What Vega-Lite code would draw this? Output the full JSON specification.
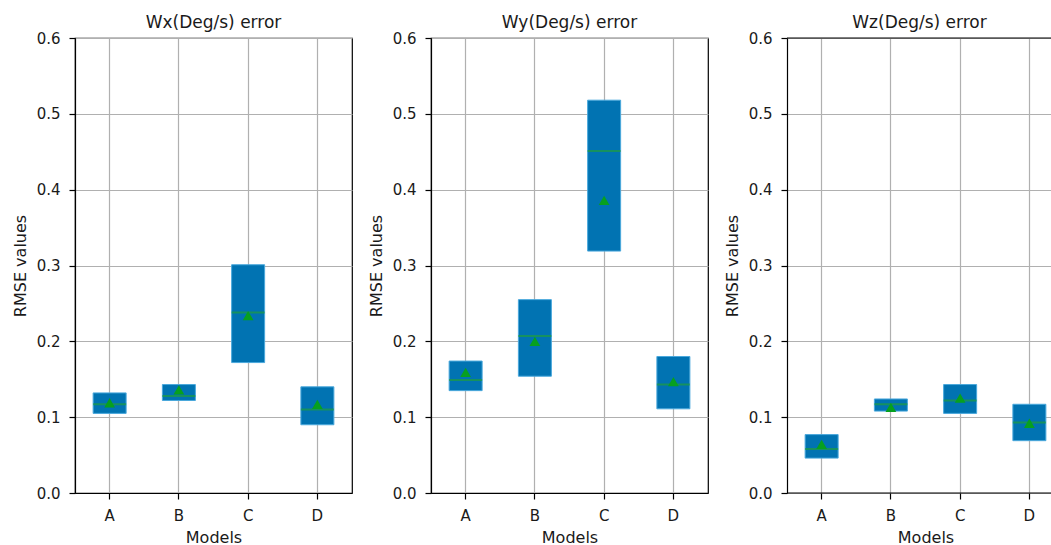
{
  "$schema": "https://vega.github.io/schema/vega-lite/v6.json",
  "background": "white",
  "padding": {"left": 11, "top": 13, "right": 0, "bottom": 0},
  "datasets": {
    "rmse": [
      {"panel": "Wx", "model": "A", "q1": 0.105, "q3": 0.132, "median": 0.117, "mean": 0.119},
      {"panel": "Wx", "model": "B", "q1": 0.122, "q3": 0.143, "median": 0.128, "mean": 0.136},
      {"panel": "Wx", "model": "C", "q1": 0.172, "q3": 0.301, "median": 0.238, "mean": 0.234},
      {"panel": "Wx", "model": "D", "q1": 0.090, "q3": 0.140, "median": 0.110, "mean": 0.117},
      {"panel": "Wy", "model": "A", "q1": 0.135, "q3": 0.174, "median": 0.149, "mean": 0.159},
      {"panel": "Wy", "model": "B", "q1": 0.154, "q3": 0.255, "median": 0.207, "mean": 0.200},
      {"panel": "Wy", "model": "C", "q1": 0.319, "q3": 0.518, "median": 0.451, "mean": 0.386},
      {"panel": "Wy", "model": "D", "q1": 0.111, "q3": 0.180, "median": 0.143, "mean": 0.147},
      {"panel": "Wz", "model": "A", "q1": 0.046, "q3": 0.077, "median": 0.058, "mean": 0.064},
      {"panel": "Wz", "model": "B", "q1": 0.108, "q3": 0.124, "median": 0.117, "mean": 0.113},
      {"panel": "Wz", "model": "C", "q1": 0.105, "q3": 0.143, "median": 0.122, "mean": 0.125},
      {"panel": "Wz", "model": "D", "q1": 0.069, "q3": 0.117, "median": 0.093, "mean": 0.092}
    ]
  },
  "spacing": 79,
  "bounds": "flush",
  "hconcat": [
    {
      "width": 277,
      "height": 455,
      "title": "Wx(Deg/s) error",
      "data": {"name": "rmse"},
      "transform": [{"filter": "datum.panel === 'Wx'"}],
      "encoding": {
        "x": {"field": "model", "type": "nominal", "title": "Models",
              "scale": {"paddingInner": 0, "paddingOuter": 0},
              "axis": {"labelAngle": 0, "grid": true, "bandPosition": 0.5}},
        "y": {"type": "quantitative"}
      },
      "layer": [
        {"mark": {"type": "bar", "width": 33, "color": "#0173b2", "stroke": "#4aa8dc", "strokeWidth": 1},
         "encoding": {"y": {"field": "q1", "type": "quantitative", "title": "RMSE values",
                            "scale": {"domain": [0, 0.6], "nice": false},
                            "axis": {"values": [0, 0.1, 0.2, 0.3, 0.4, 0.5, 0.6], "format": ".1f", "grid": true}},
                      "y2": {"field": "q3"}}},
        {"mark": {"type": "tick", "size": 33, "thickness": 2, "color": "#1f9e3c"},
         "encoding": {"y": {"field": "median", "type": "quantitative"}}},
        {"mark": {"type": "point", "shape": "triangle-up", "filled": true, "size": 115, "color": "#07a01f", "opacity": 1},
         "encoding": {"y": {"field": "mean", "type": "quantitative"}}}
      ]
    },
    {
      "width": 277,
      "height": 455,
      "title": "Wy(Deg/s) error",
      "data": {"name": "rmse"},
      "transform": [{"filter": "datum.panel === 'Wy'"}],
      "encoding": {
        "x": {"field": "model", "type": "nominal", "title": "Models",
              "scale": {"paddingInner": 0, "paddingOuter": 0},
              "axis": {"labelAngle": 0, "grid": true, "bandPosition": 0.5}},
        "y": {"type": "quantitative"}
      },
      "layer": [
        {"mark": {"type": "bar", "width": 33, "color": "#0173b2", "stroke": "#4aa8dc", "strokeWidth": 1},
         "encoding": {"y": {"field": "q1", "type": "quantitative", "title": "RMSE values",
                            "scale": {"domain": [0, 0.6], "nice": false},
                            "axis": {"values": [0, 0.1, 0.2, 0.3, 0.4, 0.5, 0.6], "format": ".1f", "grid": true}},
                      "y2": {"field": "q3"}}},
        {"mark": {"type": "tick", "size": 33, "thickness": 2, "color": "#1f9e3c"},
         "encoding": {"y": {"field": "median", "type": "quantitative"}}},
        {"mark": {"type": "point", "shape": "triangle-up", "filled": true, "size": 115, "color": "#07a01f", "opacity": 1},
         "encoding": {"y": {"field": "mean", "type": "quantitative"}}}
      ]
    },
    {
      "width": 265,
      "height": 455,
      "title": "Wz(Deg/s) error",
      "view": {"stroke": null},
      "layer": [
        {
          "data": {"name": "rmse"},
          "transform": [{"filter": "datum.panel === 'Wz'"}],
          "encoding": {
            "x": {"field": "model", "type": "nominal", "title": "Models",
                  "scale": {"paddingInner": 0, "paddingOuter": 0, "range": [0, 277]},
                  "axis": {"labelAngle": 0, "grid": true, "bandPosition": 0.5, "domain": false}},
            "y": {"type": "quantitative"}
          },
          "layer": [
            {"mark": {"type": "bar", "width": 33, "color": "#0173b2", "stroke": "#4aa8dc", "strokeWidth": 1},
             "encoding": {"y": {"field": "q1", "type": "quantitative", "title": "RMSE values",
                                "scale": {"domain": [0, 0.6], "nice": false},
                                "axis": {"values": [0, 0.1, 0.2, 0.3, 0.4, 0.5, 0.6], "format": ".1f", "grid": true}},
                          "y2": {"field": "q3"}}},
            {"mark": {"type": "tick", "size": 33, "thickness": 2, "color": "#1f9e3c"},
             "encoding": {"y": {"field": "median", "type": "quantitative"}}},
            {"mark": {"type": "point", "shape": "triangle-up", "filled": true, "size": 115, "color": "#07a01f", "opacity": 1},
             "encoding": {"y": {"field": "mean", "type": "quantitative"}}}
          ]
        },
        {
          "data": {"values": [{"edge": 0.6}, {"edge": 0}]},
          "mark": {"type": "rule", "color": "black", "strokeWidth": 1.2},
          "encoding": {"y": {"field": "edge", "type": "quantitative"}}
        }
      ]
    }
  ],
  "config": {
    "font": "DejaVu Sans",
    "view": {"stroke": "black", "strokeWidth": 1.2},
    "title": {"fontSize": 17, "fontWeight": "normal", "color": "#1a1a1a", "baseline": "alphabetic", "offset": -1},
    "axis": {
      "domainColor": "black",
      "domainWidth": 1.2,
      "tickColor": "black",
      "tickWidth": 1.2,
      "tickSize": 6,
      "gridColor": "#b0b0b0",
      "gridWidth": 1.2,
      "gridOpacity": 1,
      "labelFontSize": 15,
      "labelColor": "#1a1a1a",
      "titleFontSize": 16,
      "titleFontWeight": "normal",
      "titleColor": "#1a1a1a"
    },
    "axisX": {"labelPadding": 9, "titlePadding": 6},
    "axisY": {"labelPadding": 9, "titlePadding": 8}
  }
}
